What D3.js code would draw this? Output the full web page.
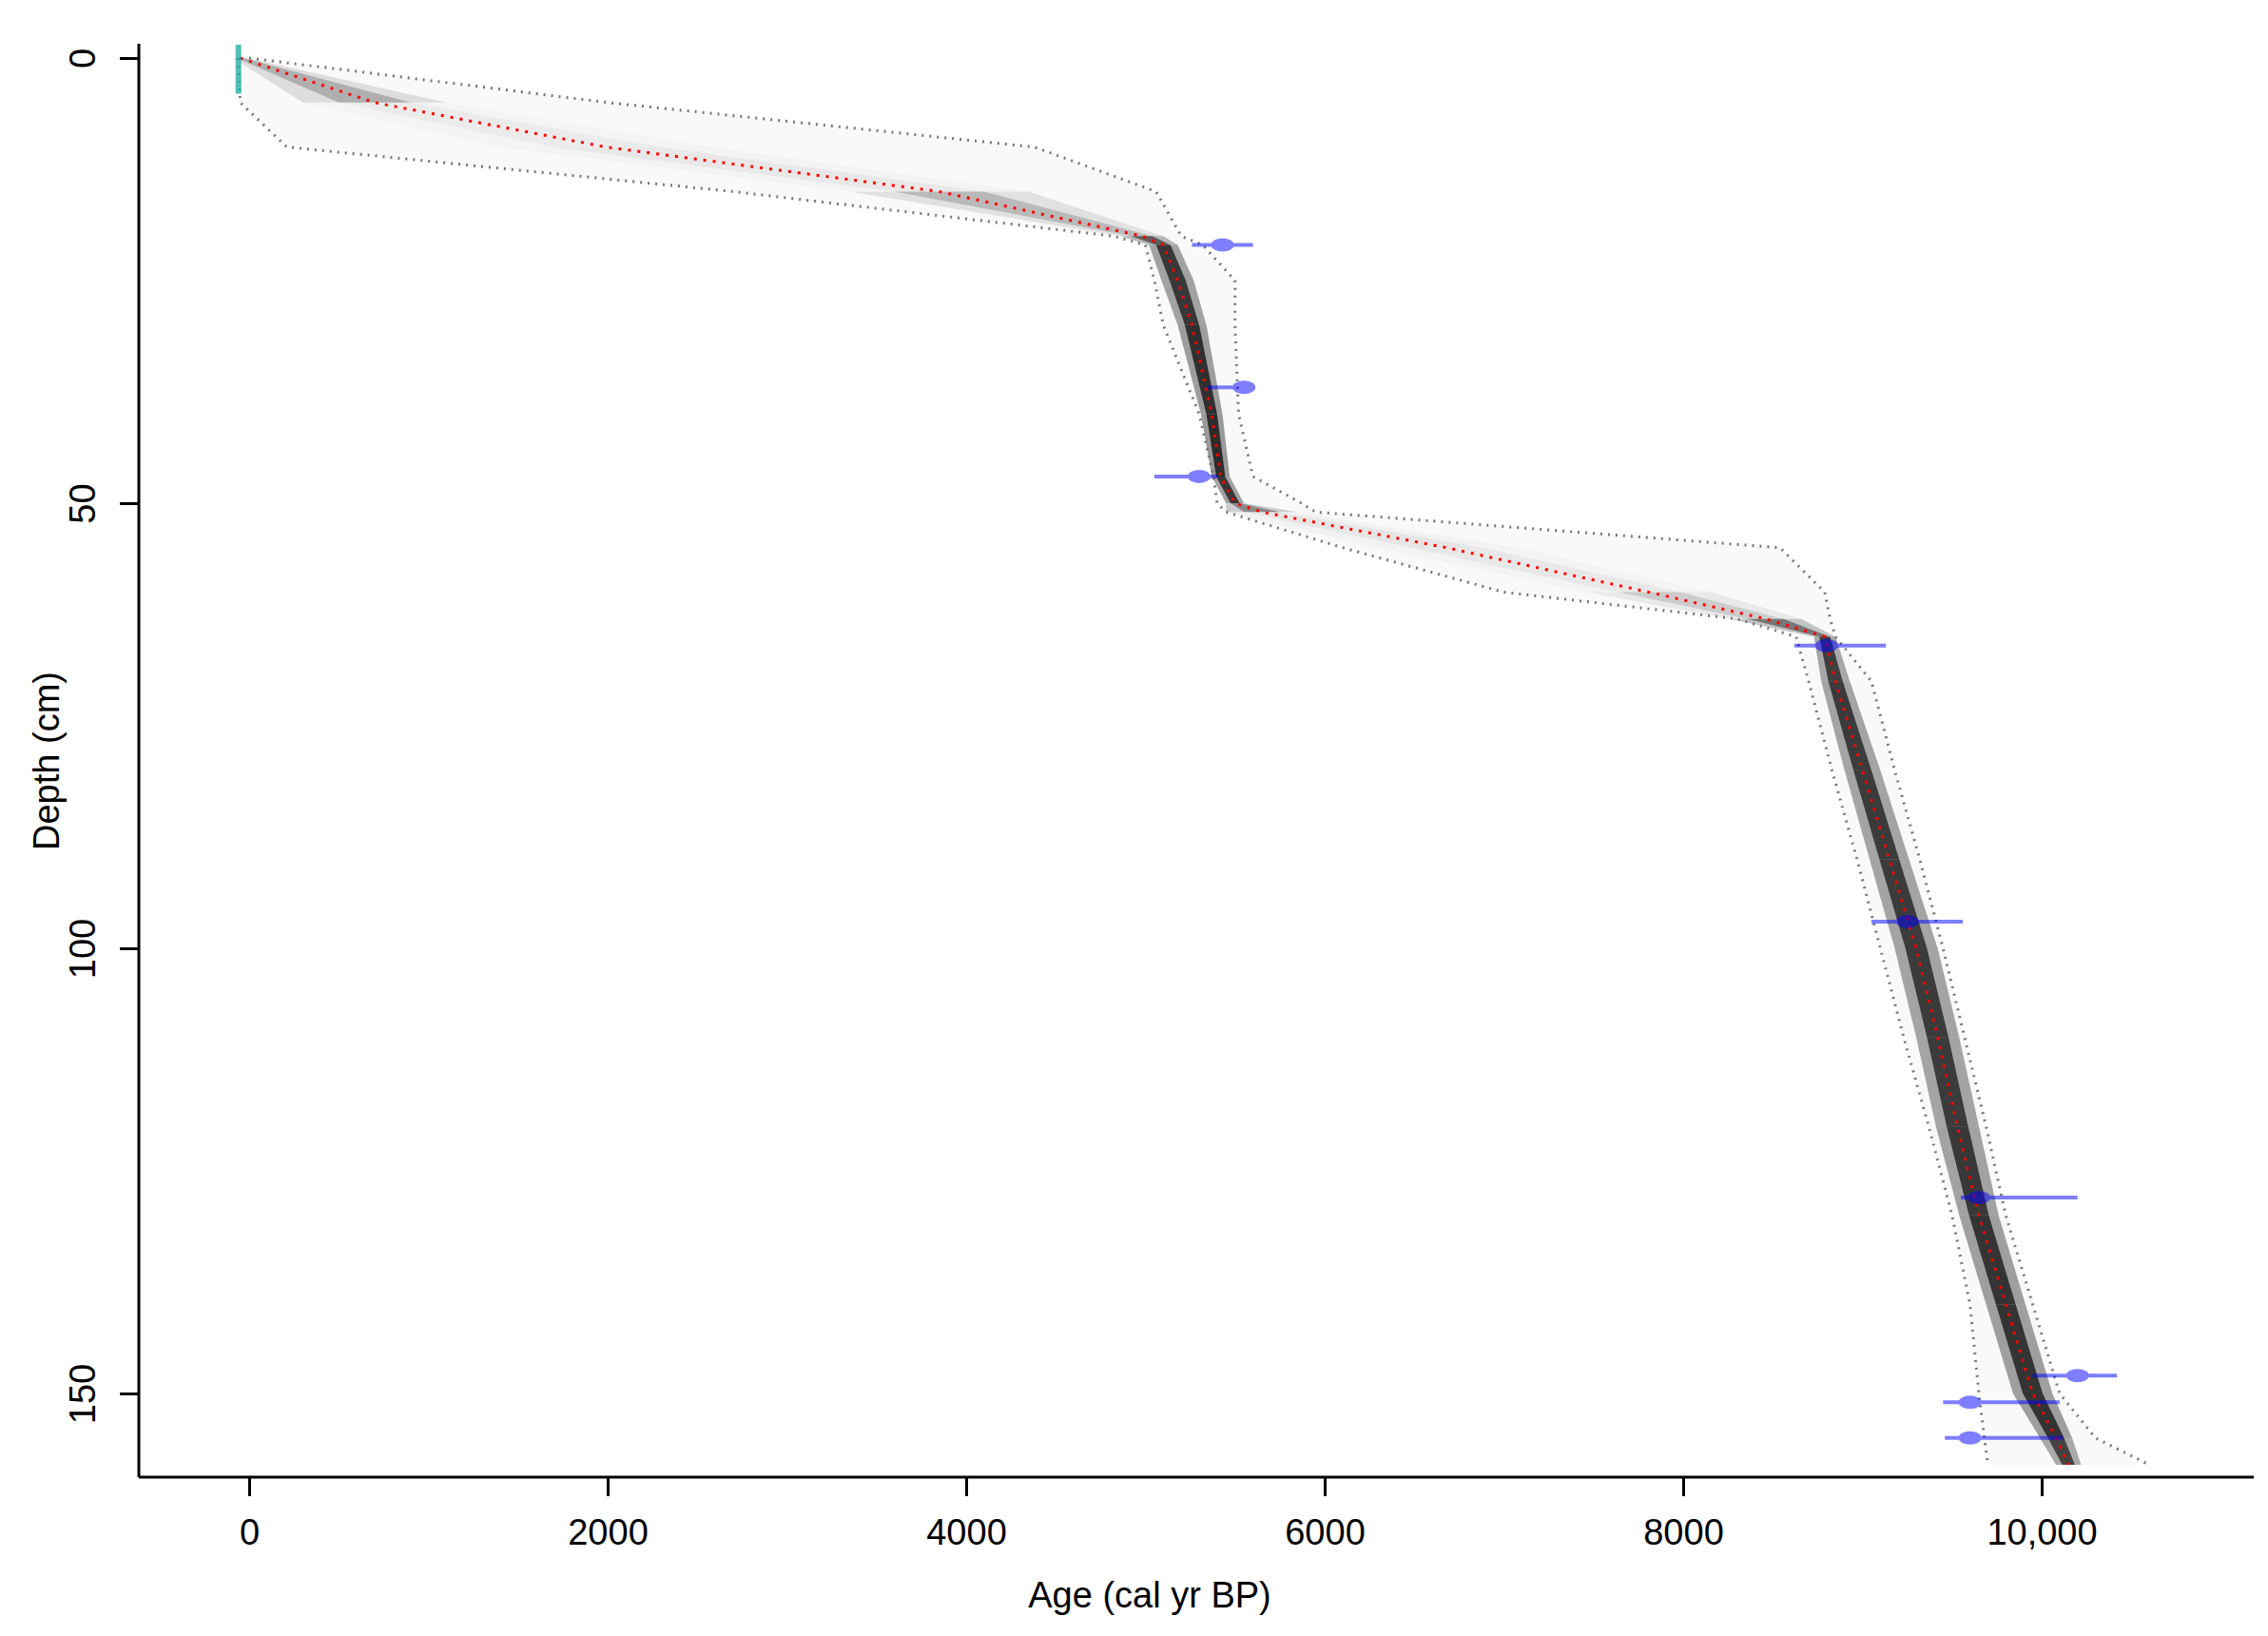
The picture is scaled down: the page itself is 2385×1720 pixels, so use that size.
<!DOCTYPE html>
<html><head><meta charset="utf-8">
<script src="https://cdn.jsdelivr.net/npm/d3@7"></script>
<style>body{margin:0;background:#fff}text{font-family:"Liberation Sans",Arial,sans-serif}</style>
</head><body>
<svg id="c" width="2385" height="1720"></svg>
<script>
// depth (cm) and age model (cal yr BP)
const depths   = [0,   5,    10,   15,   20,   21,   25,   30,   40,   47,   50,   51,   55,   60,   63,   65,   70,   80,   90,   100,  110,  120,  130,  140,  150,  155,  158];
const ageMean  = [-50, 700,  1990, 3850, 4980, 5100, 5180, 5260, 5370, 5420, 5500, 5650, 6680, 7810, 8460, 8790, 8850, 9000, 9150, 9300, 9420, 9530, 9650, 9800, 9950, 10080,10150];
const ageLow   = [-60, -50,  210,  2700, 4820, 5000, 5050, 5100, 5300, 5380, 5400, 5450, 6100, 7000, 8300, 8630, 8700, 8830, 8970, 9100, 9230, 9370, 9500, 9600, 9650, 9680, 9700];
const ageHigh  = [0,   2000, 4380, 5060, 5200, 5320, 5500, 5500, 5520, 5600, 5870, 5950, 8540, 8790, 8820, 8850, 9050, 9180, 9320, 9450, 9570, 9690, 9800, 9950, 10100,10300,10600];
const coreHalf = [40,  400,  600,  500,  120,  80,   90,   80,   60,   50,   50,   200,  400,  350,  200,  60,   80,   100,  110,  120,  120,  120,  110,  110,  110,  90,   70];
const coreDark = [0.5, 0.05, 0.04, 0.07, 0.4,  0.9,  0.85, 0.9,  0.95, 0.95, 0.8,  0.08, 0.05, 0.07, 0.25, 0.8,  0.85, 0.85, 0.85, 0.85, 0.85, 0.85, 0.9,  0.9,  0.9,  0.9,  0.7];
// dated samples: depth, calibrated mode, 95% range
const dateDepth = [21,   37,   47,   66,   97,   128,  148,  151,  155];
const dateMode  = [5430, 5550, 5300, 8800, 9250, 9650, 10200,9600, 9600];
const dateLow   = [5260, 5350, 5050, 8620, 9050, 9550, 9950, 9450, 9460];
const dateHigh  = [5600, 5580, 5400, 9130, 9560, 10200,10420,10100,10120];
const xTicks = [0,2000,4000,6000,8000,10000];
const yTicks = [0,50,100,150];

const svg = d3.select("#c");
const x = d3.scaleLinear().domain([0,10000]).range([262,2147]);
const y = d3.scaleLinear().domain([0,150]).range([61,1465]);
const rows = depths.map((d,i)=>({d,m:ageMean[i],lo:ageLow[i],hi:ageHigh[i],h:coreHalf[i],k:coreDark[i]}));

svg.append("path").datum(rows).attr("fill","#000").attr("opacity",0.025)
  .attr("d",d3.area().y(r=>y(r.d)).x0(r=>x(r.lo)).x1(r=>x(r.hi)));
for(let i=0;i<rows.length-1;i++){
  const a=rows[i],b=rows[i+1];
  const seg=[a,b];
  [1.0,0.5].forEach(f=>{
    svg.append("path").datum(seg).attr("fill","#000").attr("opacity",(a.k+b.k)/2*(f===1?0.4:0.75))
      .attr("d",d3.area().y(r=>y(r.d)).x0(r=>x(r.m-r.h*f)).x1(r=>x(r.m+r.h*f)));
  });
}
const ln=(acc)=>d3.line().y(r=>y(r.d)).x(acc);
[r=>x(r.lo), r=>x(r.hi)].forEach(acc=>svg.append("path").datum(rows).attr("fill","none")
  .attr("stroke","#777").attr("stroke-width",3).attr("stroke-dasharray","2,6").attr("d",ln(acc)));
svg.append("path").datum(rows).attr("fill","none").attr("stroke","#ff0000").attr("stroke-width",3)
  .attr("stroke-dasharray","3,7").attr("d",ln(r=>x(r.m)));

const g=svg.append("g").attr("opacity",0.5);
dateDepth.forEach((d,i)=>{
  g.append("line").attr("x1",x(dateLow[i])).attr("x2",x(dateHigh[i])).attr("y1",y(d)).attr("y2",y(d))
   .attr("stroke","#0000ff").attr("stroke-width",4);
  g.append("ellipse").attr("cx",x(dateMode[i])).attr("cy",y(d)).attr("rx",12).attr("ry",7).attr("fill","#0000ff");
});
svg.append("line").attr("x1",x(-60)).attr("x2",x(-60)).attr("y1",y(-1.5)).attr("y2",y(4))
  .attr("stroke","#20b2aa").attr("stroke-width",6).attr("opacity",0.8);

const fs=38;
const xa=svg.append("g").attr("transform","translate(0,1553)")
  .call(d3.axisBottom(x).tickValues(xTicks).tickSize(20).tickSizeOuter(0).tickFormat(v=>v===10000?"10,000":String(v)));
xa.select(".domain").attr("d","M146,0H2370");
const ya=svg.append("g").attr("transform","translate(146,0)")
  .call(d3.axisLeft(y).tickValues(yTicks).tickSize(20).tickSizeOuter(0));
ya.select(".domain").attr("d","M0,46V1553");
svg.selectAll(".domain,.tick line").attr("stroke","#000").attr("stroke-width",3);
xa.selectAll("text").attr("font-size",fs).attr("dy","1.25em");
ya.selectAll("text").attr("font-size",fs).attr("x",0).attr("y",0).attr("dy",0)
  .attr("transform","translate(-46,0) rotate(-90)").attr("text-anchor","middle");
svg.append("text").attr("x",1209).attr("y",1690).attr("text-anchor","middle").attr("font-size",fs).text("Age (cal yr BP)");
svg.append("text").attr("transform","translate(62,800) rotate(-90)").attr("text-anchor","middle").attr("font-size",fs).text("Depth (cm)");
</script></body></html>
